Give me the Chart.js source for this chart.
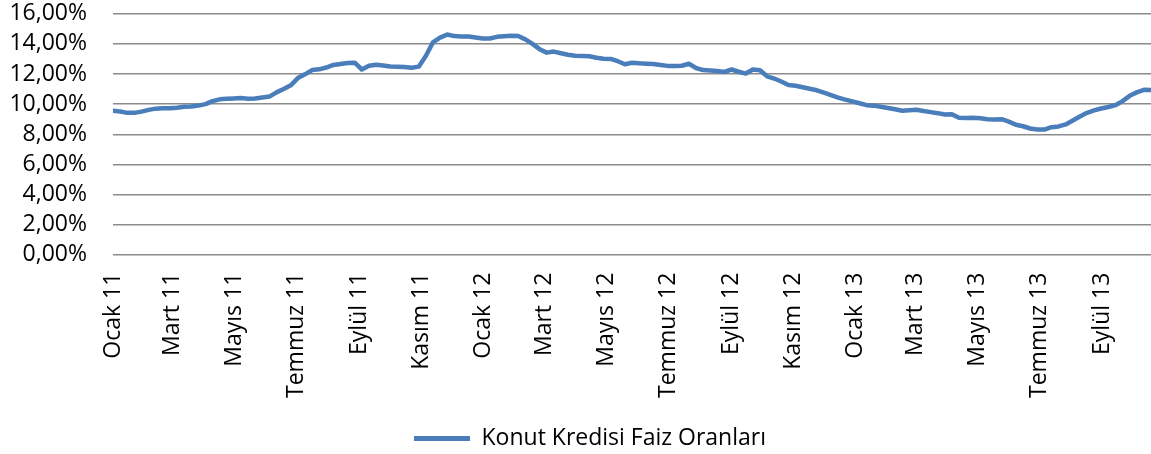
<!DOCTYPE html>
<html>
<head>
<meta charset="utf-8">
<script src="https://cdn.jsdelivr.net/npm/chart.js@4"></script>
<style>
    html, body { margin:0; padding:0; background:#fff; }
    #wrap { width:1151px; height:454px; }
</style>
</head>
<body>
<div id="wrap"><canvas id="kkChart"></canvas></div>
<script>

/* =========================
   DATA
========================= */

// first weekly observation, one value per week after it
const startDate = new Date(2011, 0, 7);

const tickLabels = [
    "Ocak 11", "Mart 11", "Mayıs 11", "Temmuz 11", "Eylül 11", "Kasım 11",
    "Ocak 12", "Mart 12", "Mayıs 12", "Temmuz 12", "Eylül 12", "Kasım 12",
    "Ocak 13", "Mart 13", "Mayıs 13", "Temmuz 13", "Eylül 13"
];

const seriesName = "Konut Kredisi Faiz Oranları";

// weekly rates, %
const rates = [
    9.56, 9.51, 9.42, 9.42, 9.50, 9.62, 9.70, 9.73, 9.73, 9.76,
    9.82, 9.84, 9.90, 10.00, 10.20, 10.32, 10.36, 10.38, 10.40, 10.36,
    10.38, 10.44, 10.50, 10.78, 11.00, 11.25, 11.73, 11.98, 12.26, 12.31,
    12.43, 12.60, 12.67, 12.73, 12.75, 12.30, 12.55, 12.62, 12.57, 12.50,
    12.48, 12.47, 12.42, 12.49, 13.20, 14.10, 14.42, 14.62, 14.52, 14.49,
    14.49, 14.43, 14.36, 14.36, 14.47, 14.51, 14.54, 14.52, 14.30, 14.00,
    13.65, 13.42, 13.49, 13.38, 13.28, 13.21, 13.20, 13.18, 13.08, 13.02,
    13.00, 12.85, 12.65, 12.75, 12.71, 12.69, 12.66, 12.60, 12.54, 12.53,
    12.55, 12.68, 12.40, 12.26, 12.23, 12.20, 12.14, 12.30, 12.15, 12.03,
    12.30, 12.25, 11.85, 11.70, 11.50, 11.27, 11.22, 11.12, 11.02, 10.92,
    10.76, 10.60, 10.43, 10.30, 10.18, 10.06, 9.93, 9.90, 9.82, 9.74,
    9.66, 9.56, 9.60, 9.62, 9.55, 9.47, 9.40, 9.31, 9.32, 9.10,
    9.08, 9.09, 9.06, 9.00, 8.98, 9.00, 8.84, 8.63, 8.53, 8.38,
    8.31, 8.31, 8.47, 8.52, 8.65, 8.91, 9.18, 9.42, 9.58, 9.71,
    9.81, 9.93, 10.20, 10.55, 10.78, 10.95, 10.93
];

const yTicks = [0, 2, 4, 6, 8, 10, 12, 14, 16];


/* =========================
   HELPERS
========================= */

const DAY = 86400000;

function dayOffset(date){
    return Math.round((date - startDate) / DAY);
}

// tick k sits on the same day of month, every two months
const tickDays =
tickLabels.map(
    (label, k) => dayOffset(new Date(2011, k * 2, 7))
);

const points =
rates.map(
    (v, i) => ({ x: i * 7, y: v })
);

const LINE_BLUE = "#4a7ebb";
const FONT = "'Open Sans', 'Liberation Sans', sans-serif";
const FONT_SIZE = 23;

// legend sits a little right of the page centre in the original
const legendNudge = {
    id: "legendNudge",
    afterLayout(chart){
        if(chart.legend) chart.legend.left += 29;
    }
};


/* =========================
   CHART
========================= */

new Chart(document.getElementById("kkChart"), {

    type: "line",

    data: {
        datasets: [{
            label: seriesName,
            data: points,
            borderColor: LINE_BLUE,
            backgroundColor: LINE_BLUE,
            borderWidth: 4.5,
            borderCapStyle: "round",
            borderJoinStyle: "round",
            pointRadius: 0,
            tension: 0
        }]
    },

    plugins: [legendNudge],

    options: {

        responsive: true,
        maintainAspectRatio: false,
        animation: false,

        layout: {
            padding: { top: 1, right: 0, bottom: -6, left: 0 }
        },

        plugins: {

            tooltip: { enabled: false },

            legend: {
                position: "bottom",
                labels: {
                    color: "#000",
                    font: { family: FONT, size: FONT_SIZE },
                    boxWidth: 56,
                    boxHeight: 5,
                    padding: 11,
                    generateLabels: chart => [{
                        text: seriesName,
                        fillStyle: LINE_BLUE,
                        strokeStyle: LINE_BLUE,
                        lineWidth: 0,
                        datasetIndex: 0
                    }]
                }
            }

        },

        scales: {

            x: {
                type: "linear",
                min: 0,
                max: (rates.length - 1) * 7,
                grid: { display: false, drawTicks: false },
                border: { display: false },
                afterBuildTicks: scale => {
                    scale.ticks = tickDays.map(v => ({ value: v }));
                },
                ticks: {
                    autoSkip: false,
                    minRotation: 90,
                    maxRotation: 90,
                    padding: 18,
                    color: "#000",
                    font: { family: FONT, size: FONT_SIZE },
                    callback: value => {
                        const k = tickDays.indexOf(value);
                        return k >= 0 ? tickLabels[k] : "";
                    }
                }
            },

            y: {
                min: 0,
                max: 16,
                afterBuildTicks: scale => {
                    scale.ticks = yTicks.map(v => ({ value: v }));
                },
                afterFit: scale => {
                    scale.width = 113;
                },
                grid: {
                    color: "#8c8c8c",
                    lineWidth: 1.4,
                    drawTicks: true,
                    tickLength: 26,
                    tickColor: "rgba(0,0,0,0)"
                },
                border: { display: false },
                ticks: {
                    autoSkip: false,
                    padding: 0,
                    color: "#000",
                    font: { family: FONT, size: FONT_SIZE },
                    callback: value =>
                    value.toFixed(2).replace(".", ",") + "%"
                }
            }

        }

    }

});

</script>
</body>
</html>
